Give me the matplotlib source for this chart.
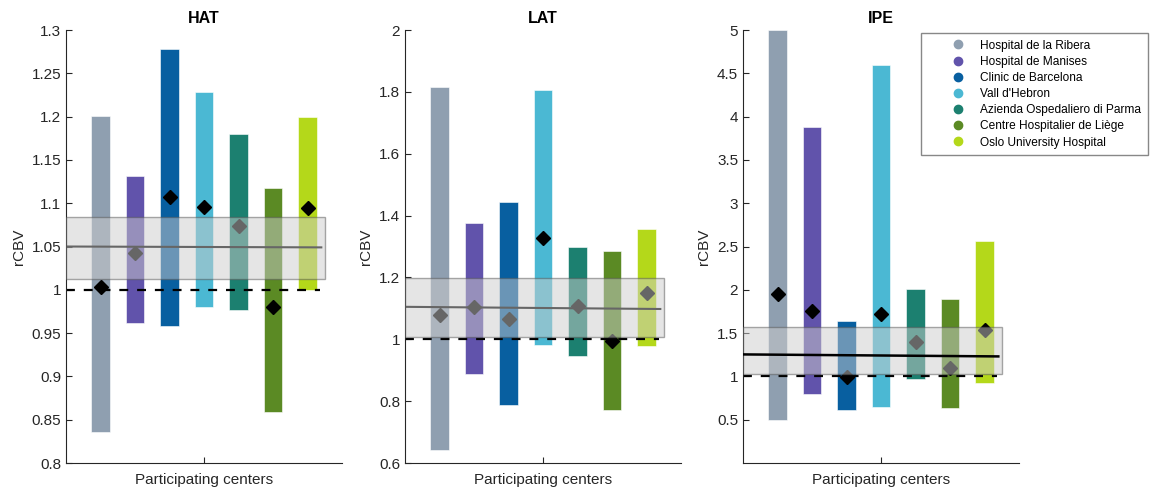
import numpy as np
import matplotlib
matplotlib.use("Agg")
import matplotlib.pyplot as plt
from matplotlib.lines import Line2D
from matplotlib.patches import Rectangle

plt.rcParams['font.family'] = ['Liberation Sans', 'DejaVu Sans']

centers = [
    "Hospital de la Ribera",
    "Hospital de Manises",
    "Clinic de Barcelona",
    "Vall d'Hebron",
    "Azienda Ospedaliero di Parma",
    "Centre Hospitalier de Liège",
    "Oslo University Hospital",
]
colors = ["#8f9fb0", "#6153ab", "#085fa0", "#4bb8d3", "#1c8070", "#5b8a24", "#b4d81a"]

# per-center range (low, high) and the diamond value
hat_low = [0.836, 0.962, 0.958, 0.980, 0.977, 0.859, 1.000]
hat_high = [1.201, 1.132, 1.278, 1.228, 1.180, 1.118, 1.200]
hat_mark = [1.003, 1.043, 1.107, 1.096, 1.074, 0.980, 1.095]

lat_low = [0.643, 0.889, 0.789, 0.980, 0.945, 0.772, 0.977]
lat_high = [1.816, 1.375, 1.444, 1.806, 1.300, 1.287, 1.358]
lat_mark = [1.080, 1.105, 1.067, 1.328, 1.107, 0.994, 1.150]

ipe_low = [0.50, 0.80, 0.615, 0.646, 0.973, 0.631, 0.919]
ipe_high = [5.00, 3.877, 1.635, 4.60, 2.004, 1.889, 2.561]
ipe_mark = [1.954, 1.754, 0.992, 1.719, 1.396, 1.096, 1.531]

# shaded band (low, high) and trend line (start, end)
hat_band = (1.012, 1.084)
hat_line = (1.050, 1.049)
lat_band = (1.009, 1.199)
lat_line = (1.105, 1.098)
ipe_band = (1.031, 1.569)
ipe_line = (1.254, 1.231)

panels = [
    ("HAT", hat_low, hat_high, hat_mark, hat_band, hat_line,
     (0.8, 1.3), np.arange(0.8, 1.3001, 0.05), False),
    ("LAT", lat_low, lat_high, lat_mark, lat_band, lat_line,
     (0.6, 2.0), np.arange(0.6, 2.0001, 0.2), False),
    ("IPE", ipe_low, ipe_high, ipe_mark, ipe_band, ipe_line,
     (0.0, 5.0), np.arange(0.5, 5.0001, 0.5), True),
]

fig = plt.figure(figsize=(11.51, 4.88), dpi=100)
lefts = [66 / 1151, 405 / 1151, 743 / 1151]
x = np.arange(1, 8)
axcol = "#262626"

for i, (title, low, high, mark, band, line, ylim, yt, line_top) in enumerate(panels):
    ax = fig.add_axes([lefts[i], 0.0512, 0.2398, 0.8873])
    low = np.array(low)
    high = np.array(high)
    ax.bar(x, high - low, bottom=low, width=0.53, color=colors,
           edgecolor="white", linewidth=0.4, zorder=1)
    ax.plot(x, mark, ls="none", marker="D", ms=7, color="black", zorder=2)
    ax.plot([0, 7.35], [1, 1], color="black", lw=1.6, ls=(0, (4, 4)), zorder=2)
    ax.plot([0, 7.4], line, color="black", lw=1.8 if line_top else 1.5,
            zorder=4 if line_top else 2)
    ax.add_patch(Rectangle((0, band[0]), 7.5, band[1] - band[0],
                           facecolor=(0.8, 0.8, 0.8), alpha=0.5,
                           edgecolor="#555555", lw=1.0, zorder=3))
    ax.set_xlim(0, 8)
    ax.set_ylim(*ylim)
    ax.set_yticks(yt)
    ax.set_yticklabels(["%g" % round(v, 2) for v in yt])
    ax.set_xticks([4])
    ax.set_xticklabels([])
    ax.tick_params(direction="in", length=4, colors=axcol, labelsize=11)
    for s in ["top", "right"]:
        ax.spines[s].set_visible(False)
    for s in ["left", "bottom"]:
        ax.spines[s].set_color(axcol)
    ax.set_title(title, fontsize=11.5, fontweight="bold", pad=5)
    ax.set_ylabel("rCBV", fontsize=11, color=axcol)
    ax.set_xlabel("Participating centers", fontsize=11, color=axcol, labelpad=4)

handles = [Line2D([], [], ls="none", marker="o", ms=6, color=c) for c in colors]
leg = fig.legend(handles, centers, loc="upper right",
                 bbox_to_anchor=(1148 / 1151, 1 - 33 / 488), fontsize=8.6,
                 frameon=True, fancybox=False, framealpha=1, borderaxespad=0,
                 edgecolor="#888888", handletextpad=-0.6, labelspacing=0.35,
                 borderpad=0.55, handlelength=5.0)
leg.get_frame().set_linewidth(1.0)

fig.savefig("out.png", dpi=100)
